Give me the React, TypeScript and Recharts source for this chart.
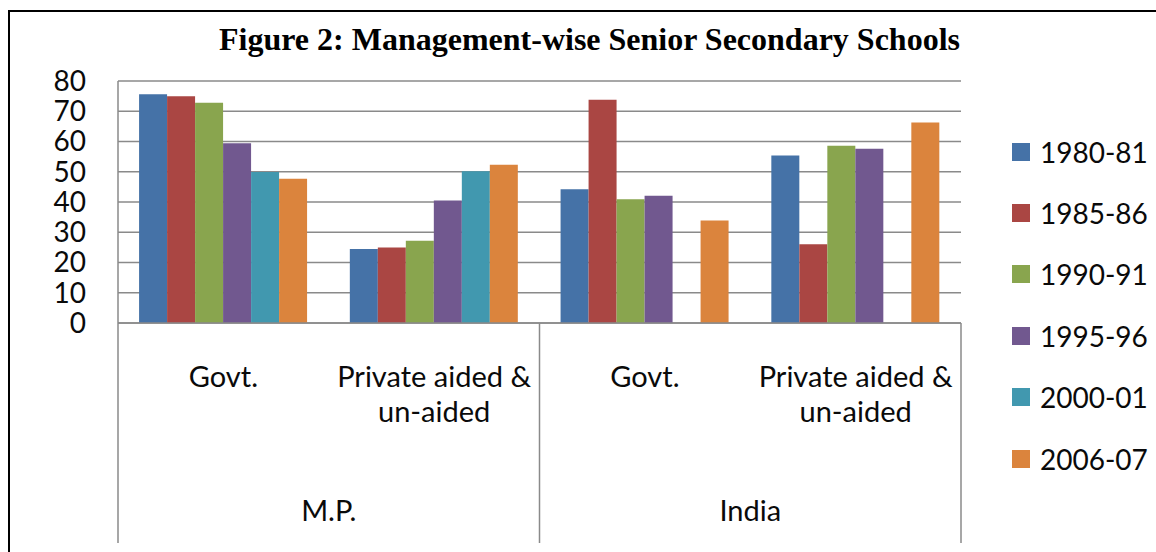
import React from 'react';
import { BarChart, Bar, XAxis, YAxis, CartesianGrid, Legend } from 'recharts';

const categoryLines: string[][] = [
  ['Govt.'],
  ['Private aided &', 'un-aided'],
  ['Govt.'],
  ['Private aided &', 'un-aided'],
];
const regions = ['M.P.', 'M.P.', 'India', 'India'];
const seriesNames = ['1980-81', '1985-86', '1990-91', '1995-96', '2000-01', '2006-07'];
const s1980 = [75.6, 24.5, 44.2, 55.4];
const s1985 = [75.0, 25.0, 73.8, 26.0];
const s1990 = [72.8, 27.2, 40.9, 58.6];
const s1995 = [59.4, 40.5, 42.1, 57.6];
const s2000 = [49.9, 50.2, null, null];
const s2006 = [47.7, 52.3, 33.9, 66.3];
const yTicks = [0, 10, 20, 30, 40, 50, 60, 70, 80];
const colors = ['#4572A7', '#AA4643', '#89A54E', '#71588F', '#4198AF', '#DB843D'];

const seriesValues = [s1980, s1985, s1990, s1995, s2000, s2006];
const data = categoryLines.map((lines, i) => {
  const row: Record<string, any> = { key: `${regions[i]}-${i}`, idx: i };
  seriesNames.forEach((n, k) => {
    row[n] = seriesValues[k][i];
  });
  return row;
});

const GRID = '#8a8a8a';
const FONT = 'Lato, "Open Sans", sans-serif';

const CategoryTick = (props: any) => {
  const { x, y, payload, index } = props;
  const half = payload && typeof payload.offset === 'number' ? payload.offset : 0;
  const i = typeof index === 'number' ? index : 0;
  const lines = categoryLines[i] || [];
  const lineEls: React.ReactNode[] = [];
  if (i === 0) {
    lineEls.push(<line key="l0" x1={x - half} x2={x - half} y1={y} y2={y + 220} stroke={GRID} strokeWidth={1.5} />);
  }
  if (i === 1 || i === 3) {
    lineEls.push(<line key="l1" x1={x + half} x2={x + half} y1={y} y2={y + 220} stroke={GRID} strokeWidth={1.5} />);
  }
  return (
    <g>
      {lineEls}
      {lines.map((t, k) => (
        <text key={k} x={x} y={y + 63.7 + k * 35} textAnchor="middle" fontFamily={FONT} fontSize={29} fill="#0a0a0a">
          {t}
        </text>
      ))}
      {(i === 0 || i === 2) && (
        <text x={x + half} y={y + 197.7} textAnchor="middle" fontFamily={FONT} fontSize={29} fill="#0a0a0a">
          {regions[i]}
        </text>
      )}
    </g>
  );
};

const renderLegend = () => (
  <div style={{ fontFamily: FONT, fontSize: 28, color: '#0a0a0a' }}>
    {seriesNames.map((n, i) => (
      <div key={n} style={{ height: 61.4, display: 'flex', alignItems: 'center' }}>
        <span style={{ width: 18, height: 18, background: colors[i], marginRight: 10, display: 'inline-block', flex: 'none' }} />
        <span style={{ lineHeight: '28px', whiteSpace: 'nowrap' }}>{n}</span>
      </div>
    ))}
  </div>
);

export default function App() {
  return (
    <div style={{ position: 'fixed', left: 0, top: 0, width: 1156, height: 552, overflow: 'hidden', background: '#fff' }}>
      <div
        style={{
          position: 'absolute',
          left: 8,
          top: 10,
          width: 1300,
          height: 700,
          borderLeft: '2px solid #000',
          borderTop: '2px solid #000',
        }}
      />
      <div
        style={{
          position: 'absolute',
          left: 0,
          top: 23,
          width: 1179,
          textAlign: 'center',
          fontFamily: '"Liberation Serif", "Times New Roman", serif',
          fontWeight: 'bold',
          fontSize: 32,
          lineHeight: '32px',
          color: '#000',
          whiteSpace: 'nowrap',
        }}
      >
        Figure 2: Management-wise Senior Secondary Schools
      </div>
      <div style={{ position: 'absolute', left: 0, top: 0 }}>
        <BarChart
          width={1156}
          height={552}
          data={data}
          margin={{ top: 81, right: 195, left: 48, bottom: 0 }}
          barCategoryGap="10%"
          barGap={0}
        >
          <CartesianGrid horizontal vertical={false} stroke={GRID} strokeWidth={1.5} />
          <XAxis
            dataKey="key"
            height={229}
            interval={0}
            tickLine={false}
            tickSize={0}
            tickMargin={0}
            axisLine={{ stroke: GRID, strokeWidth: 1.5 }}
            tick={<CategoryTick />}
          />
          <YAxis
            domain={[0, 80]}
            ticks={yTicks}
            width={70}
            tickLine={false}
            tickSize={0}
            tickMargin={32}
            axisLine={{ stroke: GRID, strokeWidth: 1.5 }}
            tick={{ fontFamily: FONT, fontSize: 28, fill: '#0a0a0a' }}
            interval={0}
          />
          <Legend
            layout="vertical"
            align="center"
            verticalAlign="middle"
            wrapperStyle={{ position: 'absolute', left: 1012, top: 121, width: 144 }}
            content={renderLegend}
          />
          {seriesNames.map((n, i) => (
            <Bar key={n} dataKey={n} fill={colors[i]} isAnimationActive={false} />
          ))}
        </BarChart>
      </div>
    </div>
  );
}
